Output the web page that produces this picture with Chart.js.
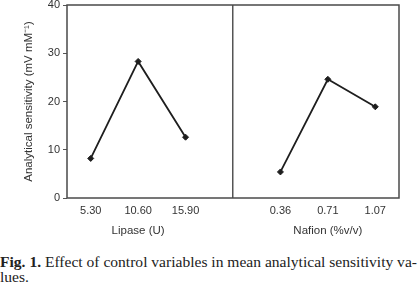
<!DOCTYPE html>
<html>
<head>
<meta charset="utf-8">
<script src="https://cdn.jsdelivr.net/npm/chart.js@4/dist/chart.umd.min.js"></script>
<style>
  html, body { margin: 0; padding: 0; background: #fff; width: 419px; height: 285px; overflow: hidden; }
  #wrap { position: absolute; left: 0; top: 0; width: 419px; height: 250px; }
  #cap { position: absolute; left: 0; top: 254px; width: 419px; font-family: "Liberation Serif", "Times New Roman", serif; font-size: 15.5px; line-height: 15px; color: #222; }
  #cap .ln { display: block; white-space: nowrap; transform-origin: 0 0; width: max-content; }
</style>
</head>
<body>
<div id="wrap"><canvas id="c" width="419" height="250"></canvas></div>
<div id="cap"><span class="ln" id="l1"><b>Fig. 1.</b> Effect of control variables in mean analytical sensitivity va-</span><span class="ln" id="l2">lues.</span></div>
<script>
// Data
const categories = ['5.30', '10.60', '15.90', '', '0.36', '0.71', '1.07'];
const lipaseValues = [8.2, 28.3, 12.6, null, null, null, null];
const nafionValues = [null, null, null, null, 5.4, 24.6, 18.9];
const groupTitles = ['Lipase (U)', 'Nafion (%v/v)'];
const groupCenters = [1, 5]; // category index at the centre of each group
const dividerIndex = 3;
const yTitle = 'Analytical sensitivity (mV mM\u207B\u00B9)';

// squeeze caption horizontally to the reference width (417px for line 1)
(function () {
  const l1 = document.getElementById('l1');
  const l2 = document.getElementById('l2');
  const k = 417 / l1.getBoundingClientRect().width;
  l1.style.transform = 'scaleX(' + k + ')';
  l2.style.transform = 'scaleX(' + k + ')';
})();

const frameAndTitles = {
  id: 'frameAndTitles',
  afterDraw(chart) {
    const ctx = chart.ctx;
    const a = chart.chartArea;
    ctx.save();
    ctx.strokeStyle = '#4a4a4a';
    ctx.lineWidth = 1.5;
    ctx.strokeRect(a.left, a.top, a.right - a.left, a.bottom - a.top);
    ctx.fillStyle = '#333';
    ctx.font = '11.5px "Liberation Sans", Arial, sans-serif';
    ctx.textAlign = 'center';
    ctx.textBaseline = 'middle';
    const xs = chart.scales.x;
    groupTitles.forEach((t, i) => {
      ctx.fillText(t, xs.getPixelForValue(groupCenters[i]), 231);
    });
    ctx.restore();
  }
};

new Chart(document.getElementById('c'), {
  type: 'line',
  data: {
    labels: categories,
    datasets: [
      { label: 'Lipase', data: lipaseValues },
      { label: 'Nafion', data: nafionValues }
    ]
  },
  options: {
    responsive: false,
    animation: false,
    devicePixelRatio: 1,
    spanGaps: false,
    layout: { padding: { left: 0, right: 20, top: 5, bottom: 0 } },
    elements: {
      line: { borderColor: '#1e1e1e', borderWidth: 1.8, tension: 0 },
      point: { pointStyle: 'rectRot', radius: 3, backgroundColor: '#1e1e1e', borderColor: '#1e1e1e', borderWidth: 1 }
    },
    plugins: { legend: { display: false }, tooltip: { enabled: false } },
    scales: {
      x: {
        type: 'category',
        offset: true,
        border: { display: false },
        grid: {
          display: true,
          drawTicks: false,
          drawOnChartArea: true,
          offset: false,
          lineWidth: 1.5,
          color: (c) => c.index === dividerIndex ? '#555' : 'rgba(0,0,0,0)'
        },
        ticks: {
          color: '#333',
          font: { family: '"Liberation Sans", Arial, sans-serif', size: 11 },
          padding: 6,
          maxRotation: 0,
          autoSkip: false
        },
        afterFit(s) { s.height = 52; s.paddingLeft = 0; s.paddingRight = 0; }
      },
      y: {
        min: 0,
        max: 40,
        border: { display: false },
        grid: { drawOnChartArea: false, drawTicks: true, tickLength: 4, color: '#555', lineWidth: 1 },
        ticks: {
          stepSize: 10,
          color: '#333',
          padding: 3,
          font: { family: '"Liberation Sans", Arial, sans-serif', size: 11 }
        },
        title: {
          display: true,
          text: yTitle,
          color: '#333',
          font: { family: '"Liberation Sans", Arial, sans-serif', size: 11.5 },
          padding: { top: 22, bottom: 0 }
        },
        afterFit(s) { s.width = 67; s.paddingTop = 0; s.paddingBottom = 0; }
      }
    }
  },
  plugins: [frameAndTitles]
});
</script>
</body>
</html>
